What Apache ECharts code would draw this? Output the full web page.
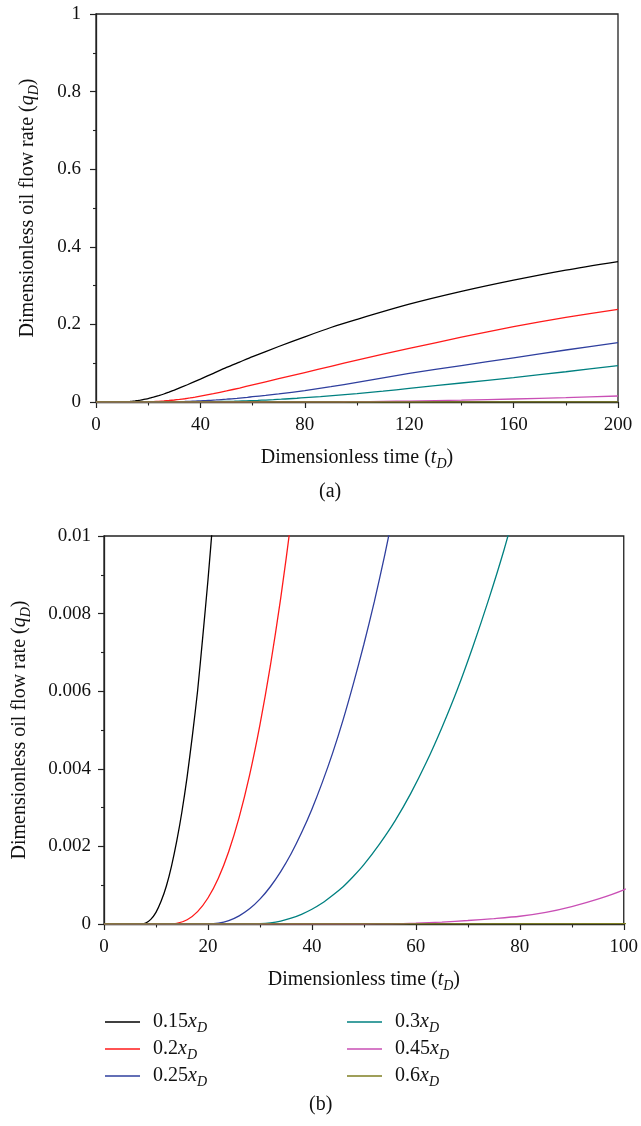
<!DOCTYPE html>
<html>
<head>
<meta charset="utf-8">
<script src="https://cdn.jsdelivr.net/npm/echarts@6/dist/echarts.min.js"></script>
<style>
html,body{margin:0;padding:0;background:#fff;}
#chart{width:641px;height:1126px;}
</style>
</head>
<body>
<div id="chart"></div>
<script>
// ---- data: [tD, qD] ----
const seriesLabels = ['0.15', '0.2', '0.25', '0.3', '0.45', '0.6'];
const seriesColors = ['#000000', '#ff1a1a', '#2f3f9e', '#008080', '#c94fb5', '#7f7f22'];

const curve015 = [[0,0],[7,0],[8,0.000024],[9,0.00012],[10,0.0003],[11,0.00059],[12,0.00098],[13,0.0015],[14,0.00214],[15,0.0029],[16,0.0038],[17,0.00485],[18,0.006],[19,0.0074],[20,0.00886],[21,0.0105],[22,0.0123],[24,0.0163],[26,0.0206],[28,0.0255],[30,0.0305],[35,0.0445],[40,0.059],[45,0.074],[50,0.089],[55,0.103],[60,0.117],[70,0.143],[80,0.168],[90,0.192],[100,0.213],[120,0.252],[140,0.285],[160,0.314],[180,0.340],[200,0.362]];
const curve020 = [[0,0],[12.5,0],[14,0.000014],[16,0.00011],[18,0.00032],[20,0.00067],[22,0.00118],[24,0.00187],[26,0.00275],[28,0.00383],[30,0.00513],[32,0.00665],[34,0.0084],[36,0.0104],[38,0.01265],[40,0.0152],[45,0.0215],[50,0.0285],[55,0.036],[60,0.044],[70,0.06],[80,0.076],[90,0.092],[100,0.108],[120,0.138],[140,0.167],[160,0.194],[180,0.218],[200,0.239]];
const curve025 = [[0,0],[20,0],[22,0.000019],[24,0.000086],[26,0.00021],[28,0.00039],[30,0.00064],[32,0.00096],[34,0.00135],[36,0.00181],[38,0.00235],[40,0.00296],[42,0.00365],[44,0.00441],[46,0.00526],[48,0.0062],[50,0.00721],[52,0.0083],[54,0.0095],[56,0.0108],[58,0.0121],[60,0.0136],[65,0.0171],[70,0.0208],[80,0.0293],[90,0.0395],[100,0.0505],[110,0.062],[120,0.0735],[140,0.094],[160,0.114],[180,0.134],[200,0.153]];
const curve030 = [[0,0],[28,0],[30,0.000006],[32,0.00003],[34,0.000077],[36,0.00015],[38,0.00025],[40,0.00038],[42,0.00054],[44,0.00074],[46,0.00096],[48,0.00123],[50,0.00153],[53,0.00206],[56,0.00266],[59,0.00336],[62,0.00416],[65,0.00506],[68,0.00605],[71,0.00716],[74,0.00836],[77,0.00966],[80,0.0111],[86,0.0138],[93,0.0175],[100,0.0215],[110,0.028],[120,0.035],[140,0.049],[160,0.063],[180,0.078],[200,0.094]];
const curve045 = [[0,0],[50,0],[55,0.000005],[60,0.00002],[65,0.00005],[70,0.00009],[75,0.00014],[80,0.0002],[85,0.0003],[90,0.00045],[95,0.00064],[100,0.00088],[110,0.0015],[120,0.0024],[140,0.0048],[160,0.0077],[180,0.0113],[200,0.0155]];
const curve060 = [[0,0],[100,0.00001],[150,0.0001],[200,0.0004]];
const curves = [curve015, curve020, curve025, curve030, curve045, curve060];

const xTicksA = {min: 0, max: 200, interval: 40};
const yTicksA = {min: 0, max: 1, interval: 0.2};
const xTicksB = {min: 0, max: 100, interval: 20};
const yTicksB = {min: 0, max: 0.01, interval: 0.002};

const FONT = 'Liberation Serif';
const names = seriesLabels.map(l => l + 'xD');

const rich = {
  n: {fontFamily: FONT, fontSize: 20, lineHeight: 26, color: '#111'},
  i: {fontFamily: FONT, fontSize: 20, lineHeight: 26, fontStyle: 'italic', color: '#111'},
  s: {fontFamily: FONT, fontSize: 14, lineHeight: 14, fontStyle: 'italic', verticalAlign: 'bottom', color: '#111'}
};

function xAxisCfg(gi, t) {
  return {
    type: 'value', gridIndex: gi, min: t.min, max: t.max, interval: t.interval,
    name: '{n|Dimensionless time (}{i|t}{s|D}{n|)}',
    nameLocation: 'middle', nameGap: 43,
    nameTextStyle: {rich: rich},
    axisLine: {show: true, onZero: false, lineStyle: {color: '#222', width: 1.3}},
    axisTick: {show: true, inside: false, length: 6, lineStyle: {color: '#222', width: 1.2}},
    minorTick: {show: true, splitNumber: 2, length: 3.5, lineStyle: {color: '#222', width: 1.1}},
    axisLabel: {fontFamily: FONT, fontSize: 19, color: '#111', margin: 14},
    splitLine: {show: false}
  };
}
function yAxisCfg(gi, t, gap, margin) {
  return {
    type: 'value', gridIndex: gi, min: t.min, max: t.max, interval: t.interval,
    name: '{n|Dimensionless oil flow rate (}{i|q}{s|D}{n|)}',
    nameLocation: 'middle', nameGap: gap, nameRotate: 90,
    nameTextStyle: {rich: rich},
    axisLine: {show: true, onZero: false, lineStyle: {color: '#222', width: 1.3}},
    axisTick: {show: true, inside: false, length: 6, lineStyle: {color: '#222', width: 1.2}},
    minorTick: {show: true, splitNumber: 2, length: 3, lineStyle: {color: '#222', width: 1.1}},
    axisLabel: {fontFamily: FONT, fontSize: 19, color: '#111', margin: margin},
    splitLine: {show: false}
  };
}

const series = [];
[0, 1].forEach(gi => {
  curves.forEach((c, k) => {
    series.push({
      type: 'line', name: names[k], xAxisIndex: gi, yAxisIndex: gi,
      data: c, showSymbol: false, symbol: 'none', smooth: 0.25,
      clip: true, silent: true, animation: false,
      lineStyle: {color: seriesColors[k], width: 1.3},
      itemStyle: {color: seriesColors[k]}
    });
  });
});

function legendCfg(left, list) {
  return {
    left: left, top: 1012, orient: 'vertical', padding: 0, itemGap: 4,
    itemWidth: 35, itemHeight: 1.5, icon: 'rect', data: list,
    selectedMode: false,
    formatter: function (name) {
      const k = names.indexOf(name);
      return '{n|' + seriesLabels[k] + '}{i|x}{s|D}';
    },
    textStyle: {rich: rich, padding: [0, 0, 0, 8]}
  };
}

const option = {
  animation: false,
  backgroundColor: '#fff',
  grid: [
    {left: 96, top: 14, width: 522, height: 388, show: true, borderColor: '#222', borderWidth: 1.3, backgroundColor: 'transparent'},
    {left: 104, top: 536, width: 522, height: 388, show: true, borderColor: '#222', borderWidth: 1.3, backgroundColor: 'transparent'}
  ],
  xAxis: [xAxisCfg(0, xTicksA), xAxisCfg(1, xTicksB)],
  yAxis: [yAxisCfg(0, yTicksA, 55, 15), yAxisCfg(1, yTicksB, 71, 13)],
  legend: [legendCfg(105, names.slice(0, 3)), legendCfg(347, names.slice(3))],
  graphic: [
    {type: 'text', left: 319, top: 482, style: {text: '(a)', font: '20px "Liberation Serif"', fill: '#111'}},
    {type: 'text', left: 309, top: 1095, style: {text: '(b)', font: '20px "Liberation Serif"', fill: '#111'}}
  ],
  series: series
};

const chart = echarts.init(document.getElementById('chart'), null, {renderer: 'canvas'});
chart.setOption(option);
</script>
</body>
</html>
